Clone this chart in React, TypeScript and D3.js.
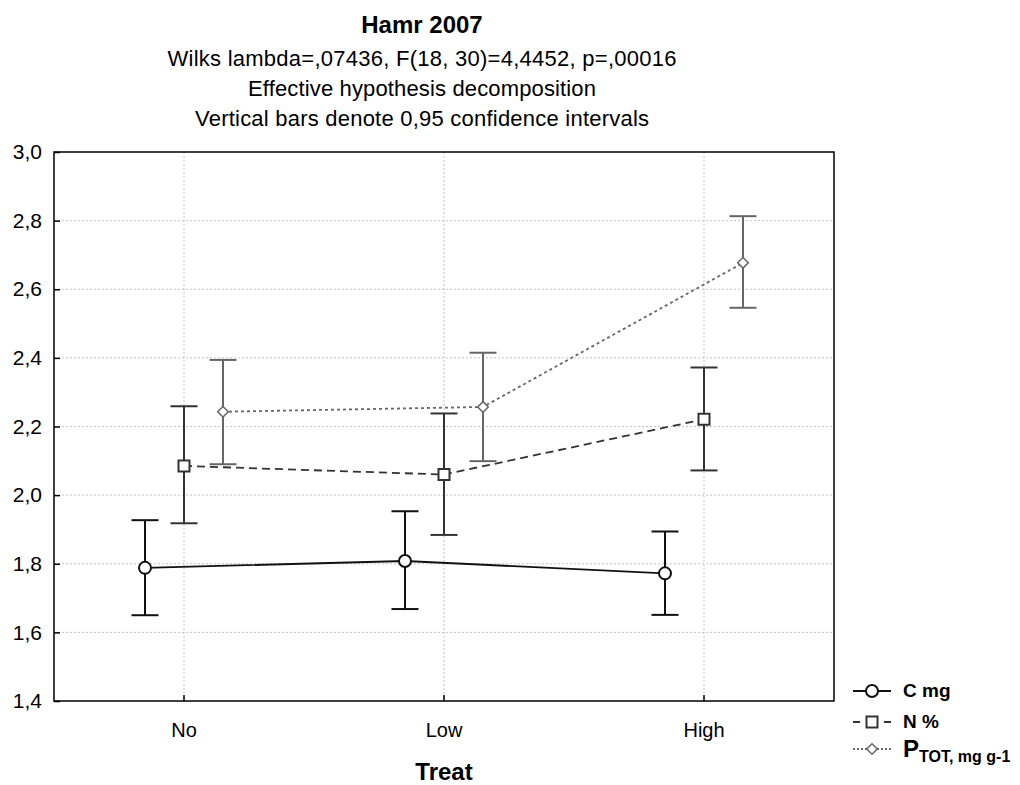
import React, { useRef, useEffect } from "react";
import * as d3 from "d3";

// categories on the x axis
const categories = ["No", "Low", "High"];
const yTicks = [1.4, 1.6, 1.8, 2.0, 2.2, 2.4, 2.6, 2.8, 3.0];

// C mg
const cMean = [1.788, 1.808, 1.772];
const cLower = [1.65, 1.668, 1.651];
const cUpper = [1.927, 1.953, 1.894];

// N %
const nMean = [2.085, 2.06, 2.221];
const nLower = [1.918, 1.884, 2.072];
const nUpper = [2.259, 2.238, 2.372];

// P TOT, mg g-1
const pMean = [2.243, 2.257, 2.677];
const pLower = [2.09, 2.099, 2.546];
const pUpper = [2.394, 2.415, 2.813];

const subtitle = [
  "Wilks lambda=,07436, F(18, 30)=4,4452, p=,00016",
  "Effective hypothesis decomposition",
  "Vertical bars denote 0,95 confidence intervals",
];

export default function App() {
  const svgRef = useRef<SVGSVGElement>(null);

  useEffect(() => {
    document.body.style.margin = "0";

    const width = 1020;
    const height = 785;
    const left = 54, right = 834, top = 152, bottom = 701;
    const font = "'Liberation Sans', Arial, sans-serif";

    const svg = d3.select(svgRef.current);
    svg.selectAll("*").remove();
    svg.attr("width", width).attr("height", height).style("font-family", font);

    const x = d3.scaleBand().domain(categories).range([left, right]).padding(0);
    const y = d3.scaleLinear().domain([1.4, 3.0]).range([bottom, top]);
    const cx = (c: string) => (x(c) as number) + x.bandwidth() / 2;

    const series = [
      { mean: cMean, lo: cLower, hi: cUpper, off: -39, color: "#111", dash: null, shape: "circle" },
      { mean: nMean, lo: nLower, hi: nUpper, off: 0, color: "#333", dash: "8,5", shape: "square" },
      { mean: pMean, lo: pLower, hi: pUpper, off: 39, color: "#666", dash: "3,3", shape: "diamond" },
    ];

    // grid
    const grid = svg.append("g");
    grid.selectAll("line.h")
      .data(yTicks.slice(1, -1))
      .join("line")
      .attr("x1", left).attr("x2", right)
      .attr("y1", (d) => y(d)).attr("y2", (d) => y(d))
      .attr("stroke", "#c4c4c4").attr("stroke-dasharray", "2,2");
    grid.selectAll("line.v")
      .data(categories)
      .join("line")
      .attr("x1", (d) => cx(d)).attr("x2", (d) => cx(d))
      .attr("y1", top).attr("y2", bottom)
      .attr("stroke", "#c4c4c4").attr("stroke-dasharray", "2,2");

    // axes with inward ticks
    const yAxis = svg.append("g")
      .attr("transform", `translate(${left},0)`)
      .call(d3.axisLeft(y).tickValues(yTicks).tickSize(-6).tickPadding(12)
        .tickFormat((d) => d3.format(".1f")(d as number).replace(".", ",")));
    yAxis.select(".domain").remove();
    yAxis.selectAll("line").attr("stroke", "#000").attr("stroke-width", 1.5);
    yAxis.selectAll("text").attr("font-size", 21).attr("fill", "#000").style("font-family", font);

    const xAxis = svg.append("g")
      .attr("transform", `translate(0,${bottom})`)
      .call(d3.axisBottom(x).tickSize(-6).tickPadding(22));
    xAxis.select(".domain").remove();
    xAxis.selectAll("line").attr("stroke", "#000").attr("stroke-width", 1.5);
    xAxis.selectAll("text").attr("font-size", 20).attr("fill", "#000").style("font-family", font);

    // frame
    svg.append("rect")
      .attr("x", left).attr("y", top)
      .attr("width", right - left).attr("height", bottom - top)
      .attr("fill", "none").attr("stroke", "#000").attr("stroke-width", 1.5);

    const markerPath = (shape: string) => {
      if (shape === "circle") return d3.symbol(d3.symbolCircle, 113)();
      if (shape === "square") return d3.symbol(d3.symbolSquare, 121)();
      return d3.symbol(d3.symbolSquare, 56)();
    };

    series.forEach((s) => {
      const g = svg.append("g");
      const line = d3.line<number>()
        .x((_, i) => cx(categories[i]) + s.off)
        .y((d) => y(d));
      g.append("path")
        .datum(s.mean)
        .attr("d", line)
        .attr("fill", "none")
        .attr("stroke", s.color)
        .attr("stroke-width", 1.8)
        .attr("stroke-dasharray", s.dash);

      categories.forEach((c, i) => {
        const px = cx(c) + s.off;
        g.append("line")
          .attr("x1", px).attr("x2", px)
          .attr("y1", y(s.lo[i])).attr("y2", y(s.hi[i]))
          .attr("stroke", s.color).attr("stroke-width", 2);
        [s.lo[i], s.hi[i]].forEach((v) => {
          g.append("line")
            .attr("x1", px - 13.5).attr("x2", px + 13.5)
            .attr("y1", y(v)).attr("y2", y(v))
            .attr("stroke", s.color).attr("stroke-width", 2);
        });
        g.append("path")
          .attr("d", markerPath(s.shape))
          .attr("transform", `translate(${px},${y(s.mean[i])})${s.shape === "diamond" ? " rotate(45)" : ""}`)
          .attr("fill", "#fff")
          .attr("stroke", s.color)
          .attr("stroke-width", s.shape === "diamond" ? 1.5 : 2);
      });
    });

    // titles
    svg.append("text")
      .attr("x", 422).attr("y", 33)
      .attr("text-anchor", "middle")
      .attr("font-size", 24).attr("font-weight", "bold")
      .text("Hamr 2007");
    const widths = [509, 348, 454];
    subtitle.forEach((t, i) => {
      svg.append("text")
        .attr("x", 422).attr("y", 66 + i * 30)
        .attr("text-anchor", "middle")
        .attr("font-size", 22)
        .attr("textLength", widths[i])
        .attr("lengthAdjust", "spacing")
        .text(t);
    });

    svg.append("text")
      .attr("x", (left + right) / 2).attr("y", 780)
      .attr("text-anchor", "middle")
      .attr("font-size", 24).attr("font-weight", "bold")
      .text("Treat");

    // legend
    const legendRows = [691, 722, 749];
    const legend = svg.append("g");
    series.forEach((s, i) => {
      const ly = legendRows[i];
      legend.append("line")
        .attr("x1", 853).attr("x2", 891)
        .attr("y1", ly).attr("y2", ly)
        .attr("stroke", s.color).attr("stroke-width", 1.8)
        .attr("stroke-dasharray", s.dash ? (s.shape === "square" ? "7,24,7" : "2,2") : null);
      legend.append("path")
        .attr("d", markerPath(s.shape))
        .attr("transform", `translate(872,${ly})${s.shape === "diamond" ? " rotate(45)" : ""}`)
        .attr("fill", "#fff")
        .attr("stroke", s.color)
        .attr("stroke-width", s.shape === "diamond" ? 1.5 : 2);
    });
    legend.append("text").attr("x", 903).attr("y", 697)
      .attr("font-size", 19).attr("font-weight", "bold").text("C mg");
    legend.append("text").attr("x", 903).attr("y", 728)
      .attr("font-size", 19).attr("font-weight", "bold").text("N %");
    const pt = legend.append("text").attr("x", 903).attr("y", 757)
      .attr("font-weight", "bold");
    pt.append("tspan").attr("font-size", 24).text("P");
    pt.append("tspan").attr("font-size", 16).attr("dy", 5).text("TOT, mg g-1");
  }, []);

  return <svg ref={svgRef}></svg>;
}
